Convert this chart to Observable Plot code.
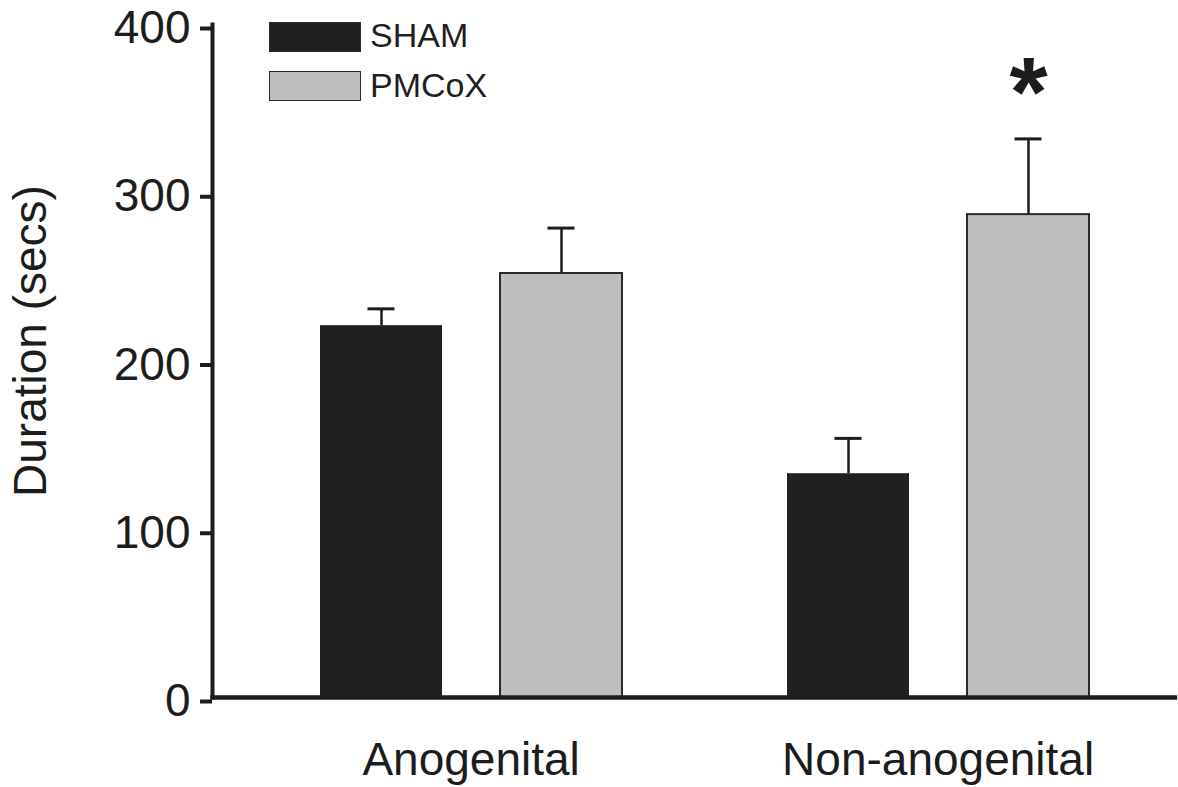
<!DOCTYPE html>
<html><head><meta charset="utf-8">
<script src="https://cdn.jsdelivr.net/npm/d3@7"></script>
<script src="https://cdn.jsdelivr.net/npm/@observablehq/plot@0.6"></script>
<style>
body{margin:0;background:#fff;font-family:"Liberation Sans",Arial,sans-serif;color:#1f1f1f;}
#wrap{position:relative;width:1178px;height:787px;}
.leg{position:absolute;left:269px;}
.sw{position:absolute;left:0;width:90px;height:28px;border:1.5px solid #2a2a2a;}
.lt{position:absolute;left:101px;font-size:34px;line-height:34px;white-space:nowrap;}
</style></head><body><div id="wrap"></div>
<script>
const groups = ["Anogenital", "Non-anogenital"];
const series = ["SHAM", "PMCoX"];
const shamMeans = [221, 133];
const pmcoxMeans = [252, 287];
const shamSEM = [10, 21];
const pmcoxSEM = [27, 45];
const yTicks = [0, 100, 200, 300, 400];
const seriesColors = ["#202020", "#bebebe"];
const yLabel = "Duration (secs)";
const annotations = [{group: "Non-anogenital", series: "PMCoX", label: "*", y: 381}];

const data = groups.flatMap((g, i) => [
  {group: g, series: "SHAM", value: shamMeans[i], sem: shamSEM[i]},
  {group: g, series: "PMCoX", value: pmcoxMeans[i], sem: pmcoxSEM[i]}
]);

const ink = "#1c1c1c";
const plot = Plot.plot({
  width: 1178, height: 787,
  marginLeft: 212, marginRight: 3, marginTop: 24, marginBottom: 90,
  style: {fontFamily: '"Liberation Sans", Arial, sans-serif', color: ink, background: "white"},
  fx: {domain: groups, paddingInner: 0.05, paddingOuter: 0.05495, align: 0, label: null},
  x: {domain: series, paddingInner: 0.3241, paddingOuter: 0.3923, align: 0.759, axis: null},
  y: {domain: [0, 400], axis: null},
  color: {domain: series, range: seriesColors},
  marks: [
    Plot.ruleX(data, {fx: "group", x: "series", y1: "value", y2: d => d.value + d.sem, stroke: ink, strokeWidth: 2.5}),
    Plot.tickY(data, {fx: "group", x: "series", y: d => d.value + d.sem, stroke: ink, strokeWidth: 3, insetLeft: 47.5, insetRight: 47.5}),
    Plot.barY(data, {filter: d => d.series === "SHAM", fx: "group", x: "series", y: "value", fill: "series"}),
    Plot.barY(data, {filter: d => d.series === "PMCoX", fx: "group", x: "series", y: "value", fill: "series", stroke: "#2a2a2a", strokeWidth: 2}),
    Plot.text(annotations, {fx: "group", x: "series", y: "y", text: "label", fontSize: 98, fontWeight: "bold", lineAnchor: "top", fill: ink}),
    Plot.frame({anchor: "left", facet: "super", stroke: ink, strokeWidth: 4}),
    Plot.frame({anchor: "bottom", facet: "super", stroke: ink, strokeWidth: 4.5, insetRight: -51.4}),
    Plot.axisY({ticks: yTicks, tickSize: 12, tickPadding: 10, fontSize: 46, strokeWidth: 4, stroke: ink, dy: 4, label: null}),
    Plot.text([yLabel], {text: d => d, frameAnchor: "left", facet: "super", rotate: -90, lineAnchor: "top",
      textAnchor: "middle", fontSize: 46, fill: ink, dx: -199, dy: -20}),
    Plot.axisFx({anchor: "bottom", tickSize: 0, tickPadding: 45, fontSize: 46, dx: 36.6, label: null})
  ]
});

const wrap = document.getElementById("wrap");
wrap.appendChild(plot);

const legTops = [22, 71];
const textTops = [18, 68];
series.forEach((s, i) => {
  const leg = document.createElement("div");
  leg.className = "leg";
  leg.style.top = "0px";
  const sw = document.createElement("div");
  sw.className = "sw";
  sw.style.top = legTops[i] + "px";
  sw.style.background = seriesColors[i];
  const t = document.createElement("div");
  t.className = "lt";
  t.style.top = textTops[i] + "px";
  t.textContent = s;
  leg.appendChild(sw);
  leg.appendChild(t);
  wrap.appendChild(leg);
});
</script>
</body></html>
